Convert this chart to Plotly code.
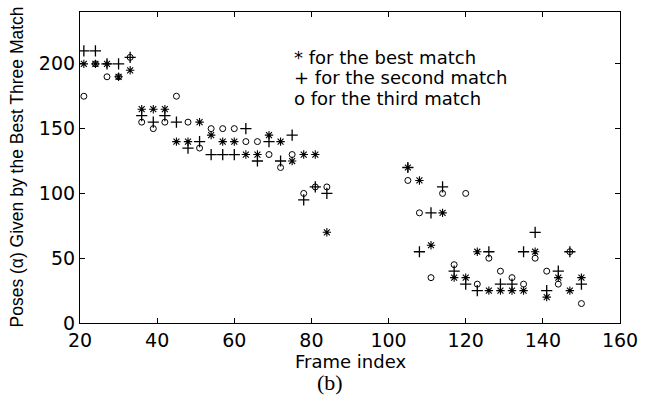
import plotly.graph_objects as go

frames = [21, 24, 27, 30, 33, 36, 39, 42, 45, 48, 51, 54, 57, 60, 63, 66, 69, 72, 75, 78, 81, 84,
          105, 108, 111, 114, 117, 120, 123, 126, 129, 132, 135, 138, 141, 144, 147, 150]
best = [200, 200, 200, 190, 195, 165, 165, 165, 140, 140, 155, 145, 140, 140, 130, 130, 145, 140, 125, 130, 130, 70,
        120, 110, 60, 85, 35, 35, 55, 25, 25, 25, 25, 55, 20, 35, 25, 35]
second = [210, 210, 200, 200, 205, 160, 155, 160, 155, 135, 140, 130, 130, 130, 150, 125, 140, 125, 145, 95, 105, 100,
          120, 55, 85, 105, 40, 30, 25, 55, 30, 30, 55, 70, 25, 40, 55, 30]
third = [175, 200, 190, 190, 205, 155, 150, 155, 175, 155, 135, 150, 150, 150, 140, 140, 130, 120, 130, 100, 105, 105,
         110, 85, 35, 100, 45, 100, 30, 50, 40, 35, 30, 50, 40, 30, 55, 15]

legend_lines = ["* for the best match", "+ for the second match", "o for the third match"]

WIDE = "DejaVu Sans, Verdana, sans-serif"
FONT = "Liberation Sans, Arial, Helvetica, sans-serif"

fig = go.Figure()
fig.add_trace(go.Scatter(x=frames, y=best, mode="markers", name="best",
                         marker=dict(symbol="asterisk-open", size=7, color="black",
                                     line=dict(color="black", width=1.1))))
fig.add_trace(go.Scatter(x=frames, y=second, mode="markers", name="second",
                         marker=dict(symbol="cross-thin-open", size=8, color="black",
                                     line=dict(color="black", width=1.3))))
fig.add_trace(go.Scatter(x=frames, y=third, mode="markers", name="third",
                         marker=dict(symbol="circle-open", size=6, color="black",
                                     line=dict(color="black", width=1))))

axis_common = dict(showgrid=False, zeroline=False, showline=True, linecolor="black", linewidth=1.2,
                   mirror="ticks", ticks="inside", ticklen=5, tickcolor="black",
                   tickfont=dict(family=WIDE, size=19, color="black"))

fig.update_xaxes(range=[20, 160], tickvals=[20, 40, 60, 80, 100, 120, 140, 160], **axis_common)
fig.update_yaxes(range=[0, 240], tickvals=[0, 50, 100, 150, 200], **axis_common)

# axis titles
fig.add_annotation(x=0.5, y=-0.124, xref="paper", yref="paper", text="Frame index", showarrow=False,
                   xanchor="center", yanchor="middle",
                   font=dict(family=WIDE, size=18, color="black"))
fig.add_annotation(x=-0.1185, y=0.5, xref="paper", yref="paper",
                   text="Poses (α) Given by the Best Three Match", showarrow=False, textangle=-90,
                   xanchor="center", yanchor="middle",
                   font=dict(family=FONT, size=17.5, color="black"))

for i, line in enumerate(legend_lines):
    fig.add_annotation(x=0.393, y=0.855 - i * 0.066, xref="paper", yref="paper",
                       text=line, showarrow=False, xanchor="left", yanchor="middle",
                       font=dict(family=WIDE, size=18, color="black"))

fig.add_annotation(x=0.463, y=-0.19, xref="paper", yref="paper", text="(b)", showarrow=False,
                   xanchor="center", yanchor="middle",
                   font=dict(family="Liberation Serif, Times New Roman, serif", size=22, color="black"))

fig.update_layout(width=651, height=408, margin=dict(l=80, r=31, t=12, b=85),
                  paper_bgcolor="white", plot_bgcolor="white", showlegend=False)

fig.write_html("out.html")
